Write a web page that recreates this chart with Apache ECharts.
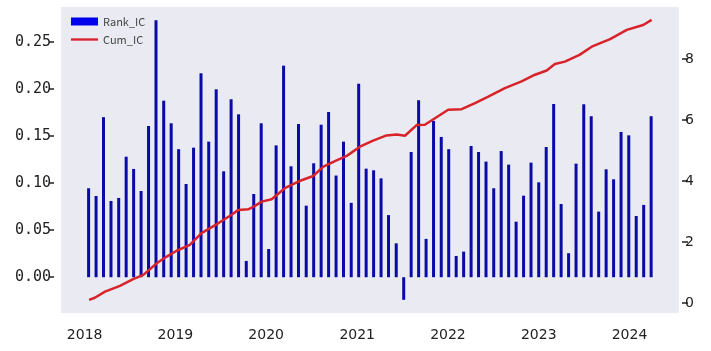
<!DOCTYPE html>
<html>
<head>
<meta charset="utf-8">
<script src="https://cdn.jsdelivr.net/npm/echarts@6/dist/echarts.min.js"></script>
<style>
  html, body { margin: 0; padding: 0; background: #fff; }
  #chart { width: 711px; height: 351px; }
</style>
</head>
<body>
<div id="chart"></div>
<script>
// period dates of the Rank_IC bars
var icDates = [
  '2018-01-17', '2018-02-16', '2018-03-18', '2018-04-17', '2018-05-18', '2018-06-17',
  '2018-07-17', '2018-08-16', '2018-09-15', '2018-10-15', '2018-11-15', '2018-12-15',
  '2019-01-14', '2019-02-13', '2019-03-15', '2019-04-14', '2019-05-15', '2019-06-14',
  '2019-07-14', '2019-08-13', '2019-09-12', '2019-10-13', '2019-11-12', '2019-12-12',
  '2020-01-11', '2020-02-10', '2020-03-11', '2020-04-10', '2020-05-10', '2020-06-10',
  '2020-07-10', '2020-08-09', '2020-09-08', '2020-10-08', '2020-11-07', '2020-12-08',
  '2021-01-07', '2021-02-06', '2021-03-08', '2021-04-07', '2021-05-07', '2021-06-07',
  '2021-07-07', '2021-08-06', '2021-09-05', '2021-10-05', '2021-11-04', '2021-12-05',
  '2022-01-04', '2022-02-03', '2022-03-05', '2022-04-04', '2022-05-04', '2022-06-03',
  '2022-07-04', '2022-08-03', '2022-09-02', '2022-10-02', '2022-11-01', '2022-12-01',
  '2023-01-01', '2023-01-31', '2023-03-02', '2023-04-01', '2023-05-01', '2023-05-31',
  '2023-07-01', '2023-07-31', '2023-08-30', '2023-09-29', '2023-10-29', '2023-11-28',
  '2023-12-29', '2024-01-28', '2024-02-27', '2024-03-28'
]
var rankIC = [
  0.0945, 0.0863, 0.170, 0.081, 0.0842, 0.128,
  0.115, 0.0916, 0.1606, 0.273, 0.1875, 0.1635,
  0.136, 0.099, 0.1376, 0.2166, 0.144, 0.1996,
  0.1125, 0.189, 0.173, 0.0173, 0.0884, 0.1635,
  0.030, 0.140, 0.2247, 0.1178, 0.1627, 0.076,
  0.121, 0.162, 0.1755, 0.108, 0.144, 0.079,
  0.2055, 0.1153, 0.1136, 0.105, 0.066, 0.036,
  -0.024, 0.133, 0.188, 0.0407, 0.166, 0.149,
  0.136, 0.0226, 0.0272, 0.1394, 0.133, 0.1228,
  0.0945, 0.134, 0.1196, 0.059, 0.0866, 0.1217,
  0.1008, 0.1383, 0.184, 0.0778, 0.0255, 0.1206,
  0.1837, 0.171, 0.0697, 0.1146, 0.104, 0.1543,
  0.1507, 0.065, 0.0768, 0.171
]
// cumulative IC line
var cumDates = [
  '2018-01-19', '2018-02-11', '2018-03-24', '2018-05-23', '2018-07-15', '2018-08-25',
  '2018-10-18', '2018-11-27', '2019-01-06', '2019-02-28', '2019-04-16', '2019-06-22',
  '2019-08-15', '2019-09-11', '2019-10-21', '2019-11-17', '2019-12-14', '2020-01-23',
  '2020-03-16', '2020-05-09', '2020-07-08', '2020-08-18', '2020-10-10', '2020-11-20',
  '2021-01-12', '2021-03-06', '2021-04-29', '2021-06-09', '2021-07-12', '2021-08-28',
  '2021-09-30', '2021-11-30', '2022-01-02', '2022-02-25', '2022-04-20', '2022-06-12',
  '2022-08-18', '2022-10-24', '2022-12-17', '2023-02-02', '2023-03-07', '2023-04-16',
  '2023-06-14', '2023-08-02', '2023-10-15', '2023-12-21', '2024-02-25', '2024-03-30'
]
var cumIC = [
  0.11, 0.18, 0.38, 0.57, 0.79, 0.93,
  1.31, 1.53, 1.72, 1.91, 2.30, 2.62,
  2.90, 3.06, 3.08, 3.19, 3.33, 3.41,
  3.77, 3.99, 4.17, 4.48, 4.68, 4.83,
  5.13, 5.33, 5.50, 5.53, 5.49, 5.84,
  5.85, 6.17, 6.34, 6.36, 6.56, 6.77,
  7.05, 7.27, 7.49, 7.63, 7.84, 7.92,
  8.14, 8.41, 8.66, 8.96, 9.12, 9.29
]
var yearTicks = [2018, 2019, 2020, 2021, 2022, 2023, 2024]
var leftTicks = [0, 0.05, 0.10, 0.15, 0.20, 0.25]
var rightTicks = [0, 2, 4, 6, 8]

function toTime(s) {
  var p = s.split('-')
  return Date.UTC(+p[0], +p[1] - 1, +p[2])
}

var myChart = echarts.init(document.getElementById('chart'))
var yearValues = yearTicks.map(function (y) { return Date.UTC(y, 0, 1) })

var option = {
  animation: false,
  backgroundColor: '#ffffff',
  textStyle: { fontFamily: 'DejaVu Sans' },
  grid: {
    left: 61,
    right: 32,
    top: 7,
    bottom: 38,
    show: true,
    backgroundColor: '#eaeaf2',
    borderWidth: 0
  },
  legend: {
    orient: 'vertical',
    left: 66,
    top: 11,
    itemWidth: 27,
    itemHeight: 8,
    itemGap: 7,
    textStyle: { color: '#444', fontSize: 11, fontFamily: 'Noto Sans CJK SC' },
    data: [
      { name: 'Rank_IC', icon: 'rect', itemStyle: { color: '#0000ee' } },
      { name: 'Cum_IC', icon: 'path://M0,0 L30,0 L30,2.6 L0,2.6 Z', itemStyle: { color: '#d8232a' } }
    ]
  },
  xAxis: {
    type: 'value',
    min: Date.UTC(2017, 8, 28),
    max: Date.UTC(2024, 6, 18),
    axisLine: { show: false },
    axisTick: { show: false },
    splitLine: { show: false },
    axisLabel: {
      customValues: yearValues,
      color: '#222',
      fontSize: 14,
      margin: 15,
      formatter: function (v) { return String(new Date(v).getUTCFullYear()) }
    }
  },
  yAxis: [{
    type: 'value',
    position: 'left',
    min: -0.038,
    max: 0.287,
    offset: 7,
    axisLine: { show: false },
    splitLine: { show: false },
    axisTick: { show: true, customValues: leftTicks, length: 5, lineStyle: { color: '#222', width: 1.5 } },
    axisLabel: {
      customValues: leftTicks,
      color: '#222',
      fontSize: 15,
      fontFamily: 'DejaVu Sans Mono',
      margin: 3,
      formatter: function (v) { return v.toFixed(2) }
    }
  }, {
    type: 'value',
    position: 'right',
    min: -0.32,
    max: 9.71,
    offset: 3,
    axisLine: { show: false },
    splitLine: { show: false },
    axisTick: { show: true, customValues: rightTicks, length: 6, lineStyle: { color: '#222', width: 1.5 } },
    axisLabel: {
      customValues: rightTicks,
      color: '#222',
      fontSize: 14,
      margin: 3
    }
  }],
  series: [{
    name: 'Rank_IC',
    type: 'bar',
    yAxisIndex: 0,
    barWidth: 3,
    itemStyle: { color: '#0a0aa8' },
    data: icDates.map(function (d, i) { return [toTime(d), rankIC[i]] })
  }, {
    name: 'Cum_IC',
    type: 'line',
    yAxisIndex: 1,
    symbol: 'none',
    lineStyle: { color: '#d8232a', width: 2.5 },
    itemStyle: { color: '#d8232a' },
    data: cumDates.map(function (d, i) { return [toTime(d), cumIC[i]] })
  }]
}
myChart.setOption(option)
</script>
</body>
</html>
